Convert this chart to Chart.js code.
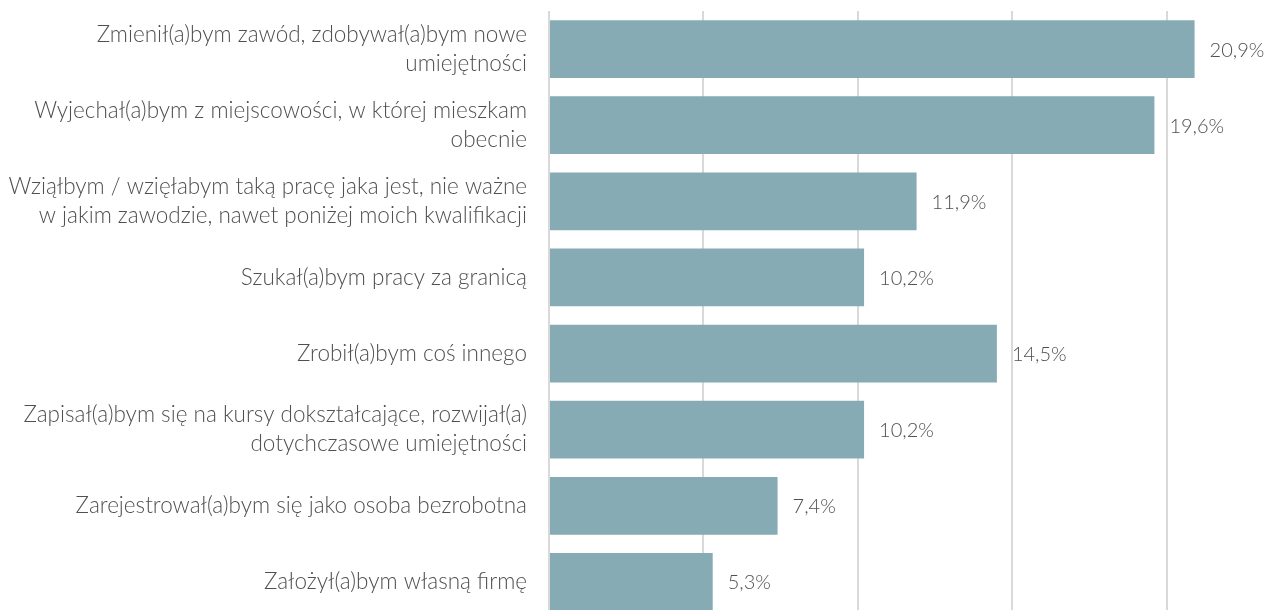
<!DOCTYPE html>
<html>
<head>
<meta charset="utf-8">
<script src="https://cdn.jsdelivr.net/npm/chart.js@4"></script>
<style>
  html, body { margin: 0; padding: 0; background: #fff; overflow: hidden; }
  #wrap { width: 1271px; height: 620px; }
</style>
</head>
<body>
<div id="wrap"><canvas id="chart"></canvas></div>
<script>
// answers (categories) and shares in %
const categories = [
  ['Zmienił(a)bym zawód, zdobywał(a)bym nowe', 'umiejętności'],
  ['Wyjechał(a)bym z miejscowości, w której mieszkam', 'obecnie'],
  ['Wziąłbym / wzięłabym taką pracę jaka jest, nie ważne', 'w jakim zawodzie, nawet poniżej moich kwalifikacji'],
  'Szukał(a)bym pracy za granicą',
  'Zrobił(a)bym coś innego',
  ['Zapisał(a)bym się na kursy dokształcające, rozwijał(a)', 'dotychczasowe umiejętności'],
  'Zarejestrował(a)bym się jako osoba bezrobotna',
  'Założył(a)bym własną firmę'
]
const values = [20.9, 19.6, 11.9, 10.2, 14.5, 10.2, 7.4, 5.3]

const textColor = '#505050'
const barColor = '#86abb5'
const fontFamily = 'Lato, "Open Sans", sans-serif'
const fontSize = 22.5
const valueSize = 20

const fmt = v => v.toFixed(1).replace('.', ',') + '%'

// draws the value labels right of each bar
const valueLabels = {
  id: 'valueLabels',
  afterDatasetsDraw(chart) {
    const ctx = chart.ctx
    const meta = chart.getDatasetMeta(0)
    ctx.save()
    ctx.font = `300 ${valueSize}px ${fontFamily}`
    ctx.fillStyle = textColor
    ctx.textAlign = 'left'
    ctx.textBaseline = 'middle'
    meta.data.forEach((bar, i) => {
      ctx.fillText(fmt(values[i]), bar.x + 15, bar.y + 1)
    })
    ctx.restore()
  }
}

new Chart(document.getElementById('chart'), {
  type: 'bar',
  data: {
    labels: categories,
    datasets: [{
      data: values,
      backgroundColor: barColor,
      borderWidth: 0,
      barPercentage: 0.76,
      categoryPercentage: 1
    }]
  },
  options: {
    indexAxis: 'y',
    responsive: true,
    maintainAspectRatio: false,
    animation: false,
    layout: { padding: { top: 11, right: 27, bottom: 0, left: 0 } },
    plugins: {
      legend: { display: false },
      tooltip: { enabled: false }
    },
    scales: {
      x: {
        min: 0,
        max: 22.5,
        ticks: { display: false, stepSize: 5 },
        afterBuildTicks: scale => { scale.ticks = scale.ticks.filter(t => t.value % 5 === 0) },
        afterFit: scale => {
          scale.height = 0
          scale.paddingLeft = 0
          scale.paddingRight = 0
        },
        grid: { color: '#d9d9d9', lineWidth: 2, drawTicks: false },
        border: { display: false }
      },
      y: {
        afterFit: scale => {
          scale.width = 549
          scale.paddingTop = 0
          scale.paddingBottom = 0
        },
        grid: { display: false, drawTicks: false },
        border: { display: false },
        ticks: {
          color: textColor,
          padding: 22,
          font: { family: fontFamily, size: fontSize, weight: 300, lineHeight: 29 / fontSize }
        }
      }
    }
  },
  plugins: [valueLabels]
})
</script>
</body>
</html>
